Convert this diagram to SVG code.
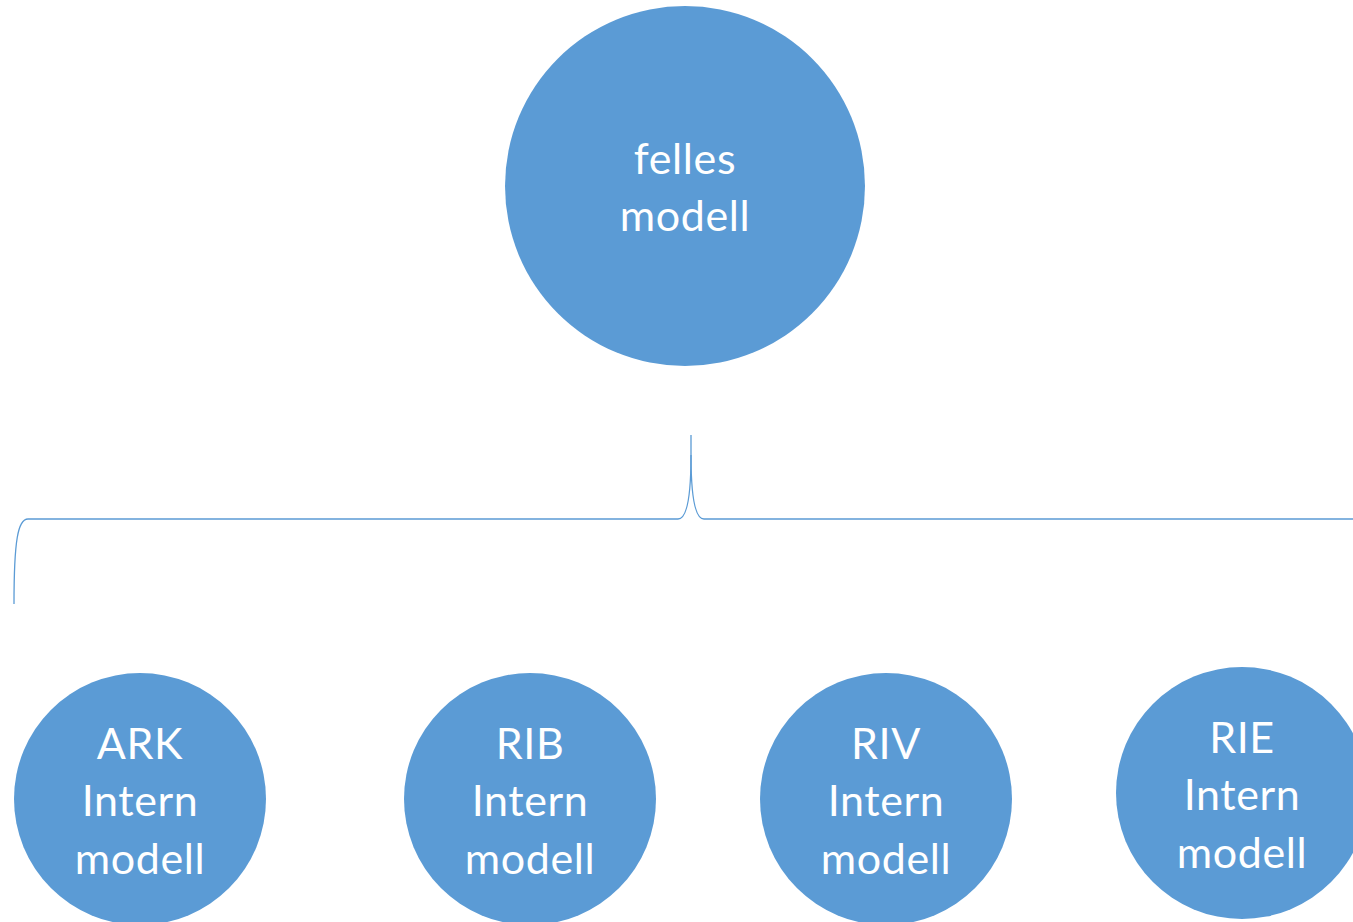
<svg xmlns="http://www.w3.org/2000/svg" width="1353" height="922" viewBox="0 0 1353 922">
<style>
.n{fill:#5B9BD5}
.t{fill:#fff;font-family:Lato,"Open Sans",sans-serif;font-size:43px;letter-spacing:0.6px;text-anchor:middle}
.c{fill:none;stroke:#5B9BD5;stroke-width:1.3}
</style>
<rect width="1353" height="922" fill="#fff"/>
<g id="connectors">
<path class="c" d="M691,435 L691,455 C691,500 686,519 678,519 L28,519 C18,519 14,540 14,604"/>
<path class="c" d="M691,455 C691,500 696,519 704,519 L1353,519"/>
</g>
<g id="felles">
<circle class="n" cx="685" cy="186" r="180"/>
<text class="t" x="685" y="174">felles</text>
<text class="t" x="685" y="231">modell</text>
</g>
<g id="ark">
<circle class="n" cx="140" cy="799" r="126"/>
<text class="t" x="140" y="759">ARK</text>
<text class="t" x="140" y="816">Intern</text>
<text class="t" x="140" y="874">modell</text>
</g>
<g id="rib">
<circle class="n" cx="530" cy="799" r="126"/>
<text class="t" x="530" y="759">RIB</text>
<text class="t" x="530" y="816">Intern</text>
<text class="t" x="530" y="874">modell</text>
</g>
<g id="riv">
<circle class="n" cx="886" cy="799" r="126"/>
<text class="t" x="886" y="759">RIV</text>
<text class="t" x="886" y="816">Intern</text>
<text class="t" x="886" y="874">modell</text>
</g>
<g id="rie">
<circle class="n" cx="1242" cy="793" r="126"/>
<text class="t" x="1242" y="753">RIE</text>
<text class="t" x="1242" y="810">Intern</text>
<text class="t" x="1242" y="868">modell</text>
</g>
</svg>
